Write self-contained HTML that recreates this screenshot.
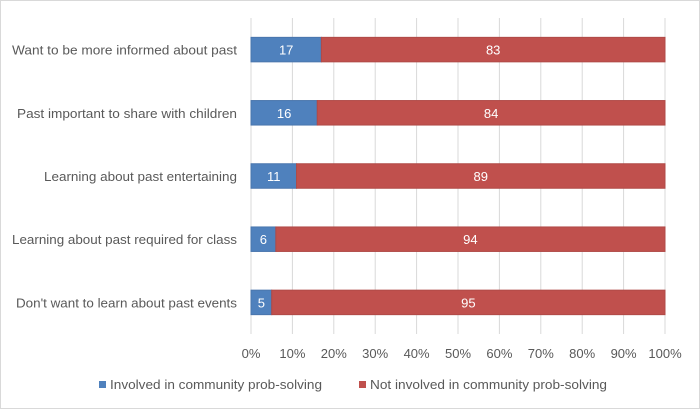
<!DOCTYPE html>
<html><head><meta charset="utf-8"><style>
body{margin:0;background:#fff;}
svg{font-family:"Liberation Sans",sans-serif;}
</style></head><body>
<svg id="chart" width="700" height="409">
<rect x="0.5" y="0.5" width="699" height="408" fill="#fff" stroke="#d9d9d9"/>
<g id="grid"></g><g id="bars"></g><g id="labels"></g>
<g>
<rect x="99" y="381" width="7" height="7" fill="#4F81BD"/>
<text x="110" y="389" font-size="13" fill="#595959" textLength="212" lengthAdjust="spacingAndGlyphs">Involved in community prob-solving</text>
<rect x="359" y="381" width="7" height="7" fill="#C0504D"/>
<text x="370" y="389" font-size="13" fill="#595959" textLength="237" lengthAdjust="spacingAndGlyphs">Not involved in community prob-solving</text>
</g>
</svg>
<script>
const categories=["Want to be more informed about past","Past important to share with children","Learning about past entertaining","Learning about past required for class","Don't want to learn about past events"];
const involved=[17,16,11,6,5];
const notInvolved=[83,84,89,94,95];
const ticks=[0,10,20,30,40,50,60,70,80,90,100];
const labelWidths=[225,220,193,225,221];
const NS="http://www.w3.org/2000/svg";
const X0=251,W=414,TOP=18,BAND=63.2,BH=24.5;
const x=v=>X0+v/100*W;
const yc=i=>TOP+BAND*(i+0.5);
function mk(tag,attrs,parent,txt){const e=document.createElementNS(NS,tag);for(const k in attrs)e.setAttribute(k,attrs[k]);if(txt!==undefined)e.textContent=txt;document.getElementById(parent).appendChild(e);return e;}
ticks.forEach(t=>{
 const l=mk('line',{x1:x(t),x2:x(t),y1:TOP,y2:TOP+BAND*5,stroke:'#d9d9d9','stroke-width':1},'grid');
 
 
 const tx=mk('text',{x:x(t),y:358,'text-anchor':'middle','font-size':13,fill:'#595959'},'labels',t+'%');
 
 
});
categories.forEach((c,i)=>{
 const y=yc(i)-BH/2;
 const b1=mk('rect',{x:x(0),y:y,width:x(involved[i])-x(0),height:BH,fill:'#4F81BD',stroke:'#4a76ad','stroke-width':1},'bars');
 
 
 const b2=mk('rect',{x:x(involved[i]),y:y,width:x(involved[i]+notInvolved[i])-x(involved[i]),height:BH,fill:'#C0504D',stroke:'#b04a47','stroke-width':1},'bars');
 
 
 const t1=mk('text',{x:(x(0)+x(involved[i]))/2,y:yc(i)+5,'text-anchor':'middle','font-size':13,fill:'#fff'},'labels',involved[i]);
 
 
 const t2=mk('text',{x:(x(involved[i])+x(involved[i]+notInvolved[i]))/2,y:yc(i)+5,'text-anchor':'middle','font-size':13,fill:'#fff'},'labels',notInvolved[i]);
 
 
 const cl=mk('text',{x:237-labelWidths[i],y:yc(i)+5,'font-size':13,fill:'#595959',textLength:labelWidths[i],lengthAdjust:'spacingAndGlyphs'},'labels',c);
 
 
});
</script>
</body></html>
